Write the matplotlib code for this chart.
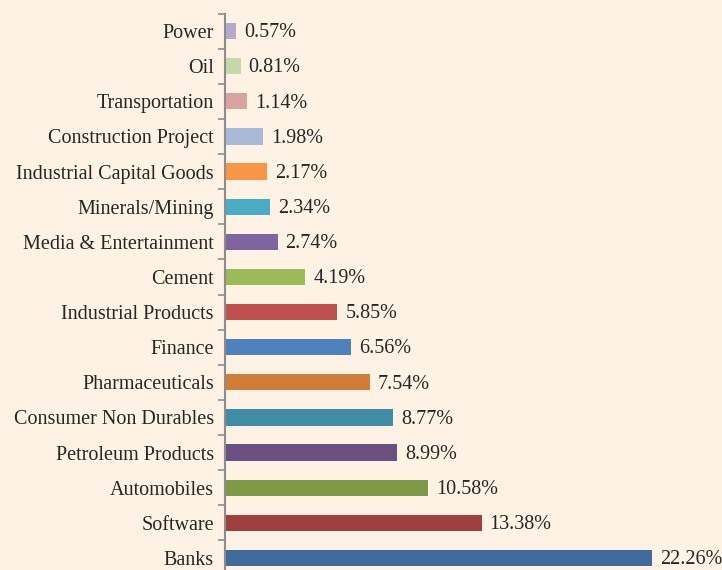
import matplotlib.pyplot as plt
from matplotlib.ticker import FixedLocator, NullLocator

# sectors listed bottom to top (Banks at the bottom)
sectors = ['Banks', 'Software', 'Automobiles', 'Petroleum Products',
           'Consumer Non Durables', 'Pharmaceuticals', 'Finance',
           'Industrial Products', 'Cement', 'Media & Entertainment',
           'Minerals/Mining', 'Industrial Capital Goods',
           'Construction Project', 'Transportation', 'Oil', 'Power']
weights = [22.26, 13.38, 10.58, 8.99, 8.77, 7.54, 6.56, 5.85, 4.19, 2.74,
           2.34, 2.17, 1.98, 1.14, 0.81, 0.57]
colors = ['#3F6A9C', '#9E413E', '#7F9A47', '#6A5080', '#3F8CA6', '#D07D38',
          '#4F81BD', '#C0504D', '#9BBB59', '#8064A2', '#4BACC6', '#F79646',
          '#A9BAD9', '#D9A3A2', '#C5D8A9', '#B6A9CB']

bg = '#FDF2E4'
plt.rcParams['font.family'] = ['Liberation Serif', 'DejaVu Serif']
fs = 14.5

fig = plt.figure(figsize=(7.22, 5.70), dpi=100, facecolor=bg)
ax = fig.add_axes([225 / 722, 0, 1 - 225 / 722, (570 - 13.5) / 570])
ax.set_facecolor(bg)

ypos = list(range(len(sectors)))
ax.barh(ypos, weights, height=0.46, color=colors)

for y, w in zip(ypos, weights):
    ax.text(w + 0.42, y - 0.05, f'{w:.2f}%', va='center', ha='left',
            fontsize=fs, color='#262626')

ax.set_xlim(0, 25.91)
ax.set_ylim(-0.343, len(sectors) - 0.5)

ax.set_yticks(ypos)
ax.set_yticklabels(sectors, fontsize=fs, color='#262626')
ax.yaxis.set_minor_locator(FixedLocator([i + 0.5 for i in range(-1, len(sectors))]))
ax.tick_params(axis='y', which='major', length=0, pad=8)
ax.tick_params(axis='y', which='minor', length=5, width=1.2, color='#8C8C8C')
ax.xaxis.set_major_locator(NullLocator())

for side in ['top', 'right', 'bottom']:
    ax.spines[side].set_visible(False)
ax.spines['left'].set_color('#8C8C8C')
ax.spines['left'].set_linewidth(1.5)

fig.savefig('out.png', dpi=100, facecolor=bg)
